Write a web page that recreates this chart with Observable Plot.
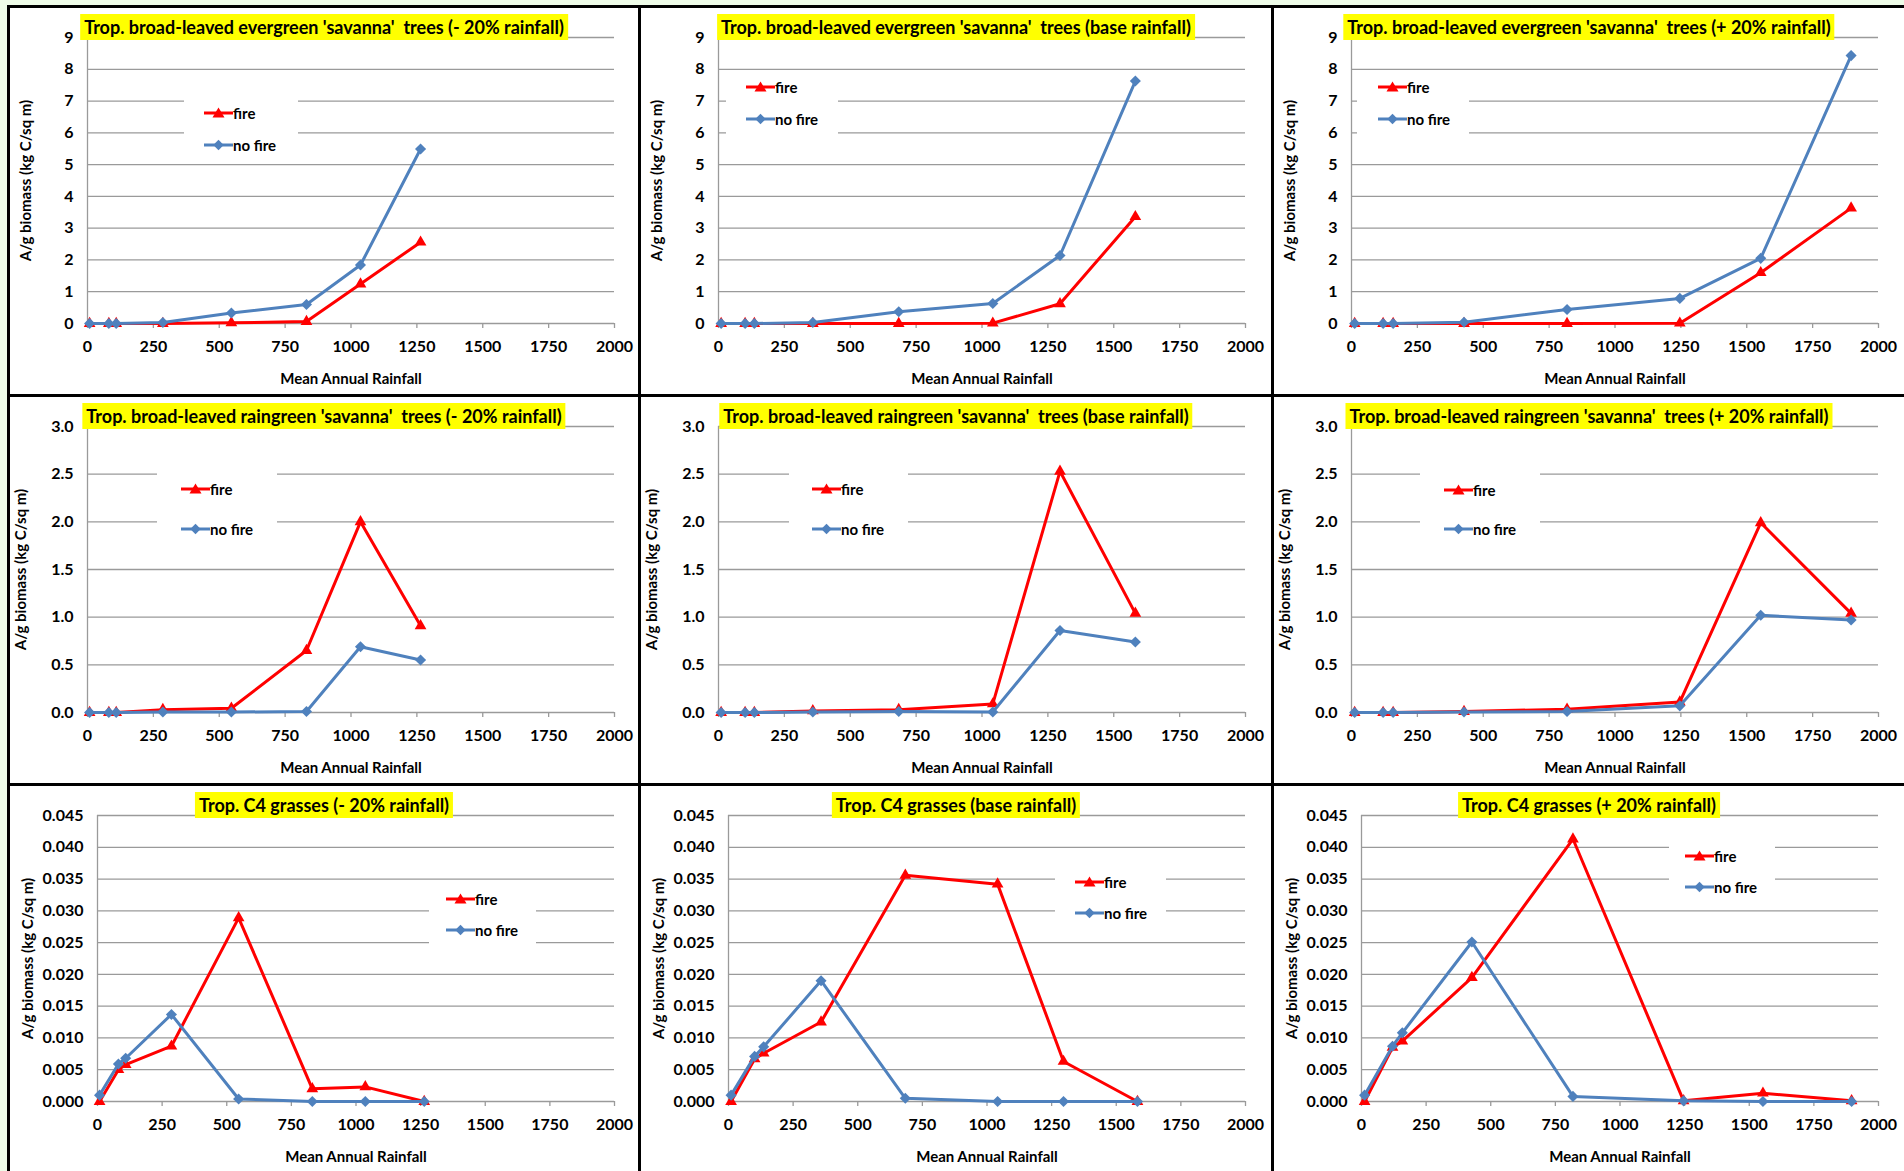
<!DOCTYPE html>
<html><head><meta charset="utf-8">
<script src="https://cdn.jsdelivr.net/npm/d3@7"></script>
<script src="https://cdn.jsdelivr.net/npm/@observablehq/plot@0.6"></script>
<style>
html,body{margin:0;padding:0;background:#eefce8;width:1904px;height:1171px;overflow:hidden;font-family:Lato,"Open Sans",sans-serif;}
#root{position:relative;width:1904px;height:1171px;}
.panel{position:absolute;box-sizing:border-box;border-left:3px solid #000;border-top:3px solid #000;background:#fff;}
.panel svg{display:block;position:absolute;left:0;top:0;}
.title{position:absolute;background:#ffff00;font-weight:700;font-size:18px;white-space:pre;padding:3px 4px;line-height:20px;transform:translateX(-50%);color:#000;}
.legend{position:absolute;background:#fff;}
.item{position:absolute;display:flex;align-items:center;font-weight:700;font-size:15px;white-space:pre;transform:translateY(-50%);color:#000;}
.item svg{position:static;display:block;}
</style></head><body><div id="root"></div><script>
// ---------- data ----------
const xTicks = [0, 250, 500, 750, 1000, 1250, 1500, 1750, 2000];
const yTicksEver = [0, 1, 2, 3, 4, 5, 6, 7, 8, 9];
const yTicksRain = [0, 0.5, 1.0, 1.5, 2.0, 2.5, 3.0];
const yTicksGrass = [0, 0.005, 0.010, 0.015, 0.020, 0.025, 0.030, 0.035, 0.040, 0.045];

const rainMinus = [8, 81, 109, 286, 546, 831, 1036, 1264];
const rainBase  = [10, 101, 136, 358, 684, 1041, 1296, 1582];
const rainPlus  = [12, 120, 158, 427, 818, 1246, 1553, 1896];

const everFireMinus   = [0, 0, 0, 0, 0.02, 0.06, 1.24, 2.56];
const everNoFireMinus = [0, 0, 0, 0.03, 0.33, 0.60, 1.84, 5.49];
const everFireBase    = [0, 0, 0, 0, 0, 0.01, 0.62, 3.36];
const everNoFireBase  = [0, 0, 0, 0.03, 0.37, 0.63, 2.14, 7.63];
const everFirePlus    = [0, 0, 0, 0, 0, 0.01, 1.60, 3.63];
const everNoFirePlus  = [0, 0, 0, 0.04, 0.44, 0.79, 2.05, 8.43];

const rainFireMinus   = [0, 0, 0, 0.03, 0.045, 0.65, 2.00, 0.91];
const rainNoFireMinus = [0, 0, 0, 0.005, 0.005, 0.01, 0.69, 0.55];
const rainFireBase    = [0, 0, 0, 0.017, 0.03, 0.09, 2.53, 1.04];
const rainNoFireBase  = [0, 0, 0, 0.005, 0.01, 0.005, 0.86, 0.74];
const rainFirePlus    = [0, 0, 0, 0.01, 0.035, 0.11, 1.99, 1.04];
const rainNoFirePlus  = [0, 0, 0, 0.005, 0.01, 0.07, 1.02, 0.97];

const grassFireMinus   = [0, 0.0050, 0.0058, 0.0087, 0.0289, 0.0020, 0.0023, 0];
const grassNoFireMinus = [0.001, 0.0059, 0.0068, 0.0137, 0.0004, 0, 0, 0];
const grassFireBase    = [0, 0.0067, 0.0076, 0.0125, 0.0356, 0.0342, 0.0063, 0];
const grassNoFireBase  = [0.001, 0.0071, 0.0086, 0.0190, 0.0005, 0, 0, 0];
const grassFirePlus    = [0, 0.0085, 0.0095, 0.0195, 0.0413, 0.0001, 0.0013, 0.0001];
const grassNoFirePlus  = [0.001, 0.0087, 0.0108, 0.0251, 0.0008, 0.0001, 0, 0];

const titles = [
  "Trop. broad-leaved evergreen 'savanna'  trees (- 20% rainfall)",
  "Trop. broad-leaved evergreen 'savanna'  trees (base rainfall)",
  "Trop. broad-leaved evergreen 'savanna'  trees (+ 20% rainfall)",
  "Trop. broad-leaved raingreen 'savanna'  trees (- 20% rainfall)",
  "Trop. broad-leaved raingreen 'savanna'  trees (base rainfall)",
  "Trop. broad-leaved raingreen 'savanna'  trees (+ 20% rainfall)",
  "Trop. C4 grasses (- 20% rainfall)",
  "Trop. C4 grasses (base rainfall)",
  "Trop. C4 grasses (+ 20% rainfall)"
];
const seriesNames = ["fire", "no fire"];
const xLabel = "Mean Annual Rainfall";
const yLabel = "A/g biomass (kg C/sq m)";

// ---------- layout ----------
const colB = [7, 638, 1271, 1904];
const rowB = [5, 394, 783, 1171];
const BW = 3;
const RED = "#ff0000", BLUE = "#4f81bd", GRID = "#9a9a9a";

const rowCfg = [
  {ticks: yTicksEver, max: 9, fmt: d3.format("d"), mL: 77, pw: 527, mT: 29, ph: 286, yDx: -61},
  {ticks: yTicksRain, max: 3, fmt: d3.format(".1f"), mL: 77, pw: 527, mT: 29, ph: 286, yDx: -66},
  {ticks: yTicksGrass, max: 0.045, fmt: d3.format(".3f"), mL: 87, pw: 517, mT: 29, ph: 286, yDx: -69}
];
const rains = [rainMinus, rainBase, rainPlus];
const fires = [[everFireMinus, everFireBase, everFirePlus],[rainFireMinus, rainFireBase, rainFirePlus],[grassFireMinus, grassFireBase, grassFirePlus]];
const nofires = [[everNoFireMinus, everNoFireBase, everNoFirePlus],[rainNoFireMinus, rainNoFireBase, rainNoFirePlus],[grassNoFireMinus, grassNoFireBase, grassNoFirePlus]];

// legend boxes in page coordinates
const legendPos = [
  {l:184, t:97, w:114, h:63, lx:204, yf:113, yn:145},
  {l:726, t:74, w:112, h:62, lx:746, yf:87, yn:119},
  {l:1357, t:74, w:112, h:62, lx:1378, yf:87, yn:119},
  {l:157, t:470, w:120, h:75, lx:181, yf:489, yn:529},
  {l:789, t:470, w:119, h:75, lx:812, yf:489, yn:529},
  {l:1420, t:470, w:120, h:75, lx:1444, yf:490, yn:529},
  {l:429, t:882, w:107, h:68, lx:446, yf:899, yn:930},
  {l:1055, t:860, w:111, h:70, lx:1075, yf:882, yn:913},
  {l:1669, t:830, w:106, h:70, lx:1685, yf:856, yn:887}
];

const root = document.getElementById("root");

function legendSwatch(color, shape) {
  const ns = "http://www.w3.org/2000/svg";
  const s = document.createElementNS(ns, "svg");
  s.setAttribute("width", 29); s.setAttribute("height", 14);
  const ln = document.createElementNS(ns, "line");
  ln.setAttribute("x1", 0); ln.setAttribute("x2", 29); ln.setAttribute("y1", 7); ln.setAttribute("y2", 7);
  ln.setAttribute("stroke", color); ln.setAttribute("stroke-width", 3);
  s.appendChild(ln);
  const p = document.createElementNS(ns, "path");
  p.setAttribute("d", shape === "tri" ? "M14.5,1.5L20.5,11.5L8.5,11.5Z" : "M14.5,1.8L19.7,7L14.5,12.2L9.3,7Z");
  p.setAttribute("fill", color);
  s.appendChild(p);
  return s;
}

for (let r = 0; r < 3; r++) {
  for (let c = 0; c < 3; c++) {
    const i = r * 3 + c;
    const cfg = rowCfg[r];
    const panel = document.createElement("div");
    panel.className = "panel";
    const pl = colB[c], pt = rowB[r];
    const pw = colB[c + 1] - pl, ph = rowB[r + 1] - pt;
    Object.assign(panel.style, {left: pl + "px", top: pt + "px", width: pw + "px", height: ph + "px"});
    root.appendChild(panel);
    const W = pw - BW, H = ph - BW;
    const fireData = rains[c].map((x, k) => ({rain: x, v: fires[r][c][k]}));
    const noData = rains[c].map((x, k) => ({rain: x, v: nofires[r][c][k]}));
    const svg = Plot.plot({
      width: W, height: H,
      marginLeft: cfg.mL, marginRight: W - cfg.mL - cfg.pw,
      marginTop: cfg.mT, marginBottom: H - cfg.mT - cfg.ph,
      style: {fontFamily: "Lato, 'Open Sans', sans-serif", fontWeight: "700", fontSize: "16px", color: "#000", background: "transparent", overflow: "visible"},
      x: {domain: [0, 2000]},
      y: {domain: [0, cfg.max]},
      marks: [
        Plot.gridY(cfg.ticks, {stroke: GRID, strokeOpacity: 1, strokeWidth: 1.3}),
        Plot.ruleX([0], {stroke: GRID, strokeWidth: 1.3}),
        Plot.axisX(xTicks, {anchor: "bottom", tickSize: 5, tickPadding: 12, stroke: GRID, strokeWidth: 1.3, fill: "#000", label: null, tickFormat: d3.format("d")}),
        Plot.axisY(cfg.ticks, {anchor: "left", tickSize: 0, tickPadding: 14, fill: "#000", label: null, tickFormat: cfg.fmt}),
        Plot.text([xLabel], {frameAnchor: "bottom", dy: 56, text: d => d, fontSize: 15, fontWeight: 700, fill: "#000", lineAnchor: "middle", textAnchor: "middle"}),
        Plot.text([yLabel], {frameAnchor: "left", dx: cfg.yDx, rotate: -90, text: d => d, fontSize: 15, fontWeight: 700, fill: "#000", lineAnchor: "middle", textAnchor: "middle"}),
        Plot.line(fireData, {x: "rain", y: "v", stroke: RED, strokeWidth: 3}),
        Plot.dot(fireData, {x: "rain", y: "v", symbol: "triangle2", r: 5.6, fill: RED}),
        Plot.line(noData, {x: "rain", y: "v", stroke: BLUE, strokeWidth: 3}),
        Plot.dot(noData, {x: "rain", y: "v", symbol: "diamond2", r: 5, fill: BLUE})
      ]
    });
    panel.appendChild(svg);

    const t = document.createElement("div");
    t.className = "title";
    t.textContent = titles[i];
    t.style.left = (W / 2) + "px";
    t.style.top = "6px";
    panel.appendChild(t);

    const lp = legendPos[i];
    const lg = document.createElement("div");
    lg.className = "legend";
    const ox = pl + BW, oy = pt + BW;
    Object.assign(lg.style, {left: (lp.l - ox) + "px", top: (lp.t - oy) + "px", width: lp.w + "px", height: lp.h + "px"});
    panel.appendChild(lg);
    [[seriesNames[0], RED, "tri", lp.yf], [seriesNames[1], BLUE, "dia", lp.yn]].forEach(([name, col, sh, yy]) => {
      const it = document.createElement("div");
      it.className = "item";
      it.style.left = (lp.lx - lp.l) + "px";
      it.style.top = (yy - lp.t) + "px";
      it.appendChild(legendSwatch(col, sh));
      const sp = document.createElement("span");
      sp.textContent = name;
      it.appendChild(sp);
      lg.appendChild(it);
    });
  }
}
</script></body></html>
